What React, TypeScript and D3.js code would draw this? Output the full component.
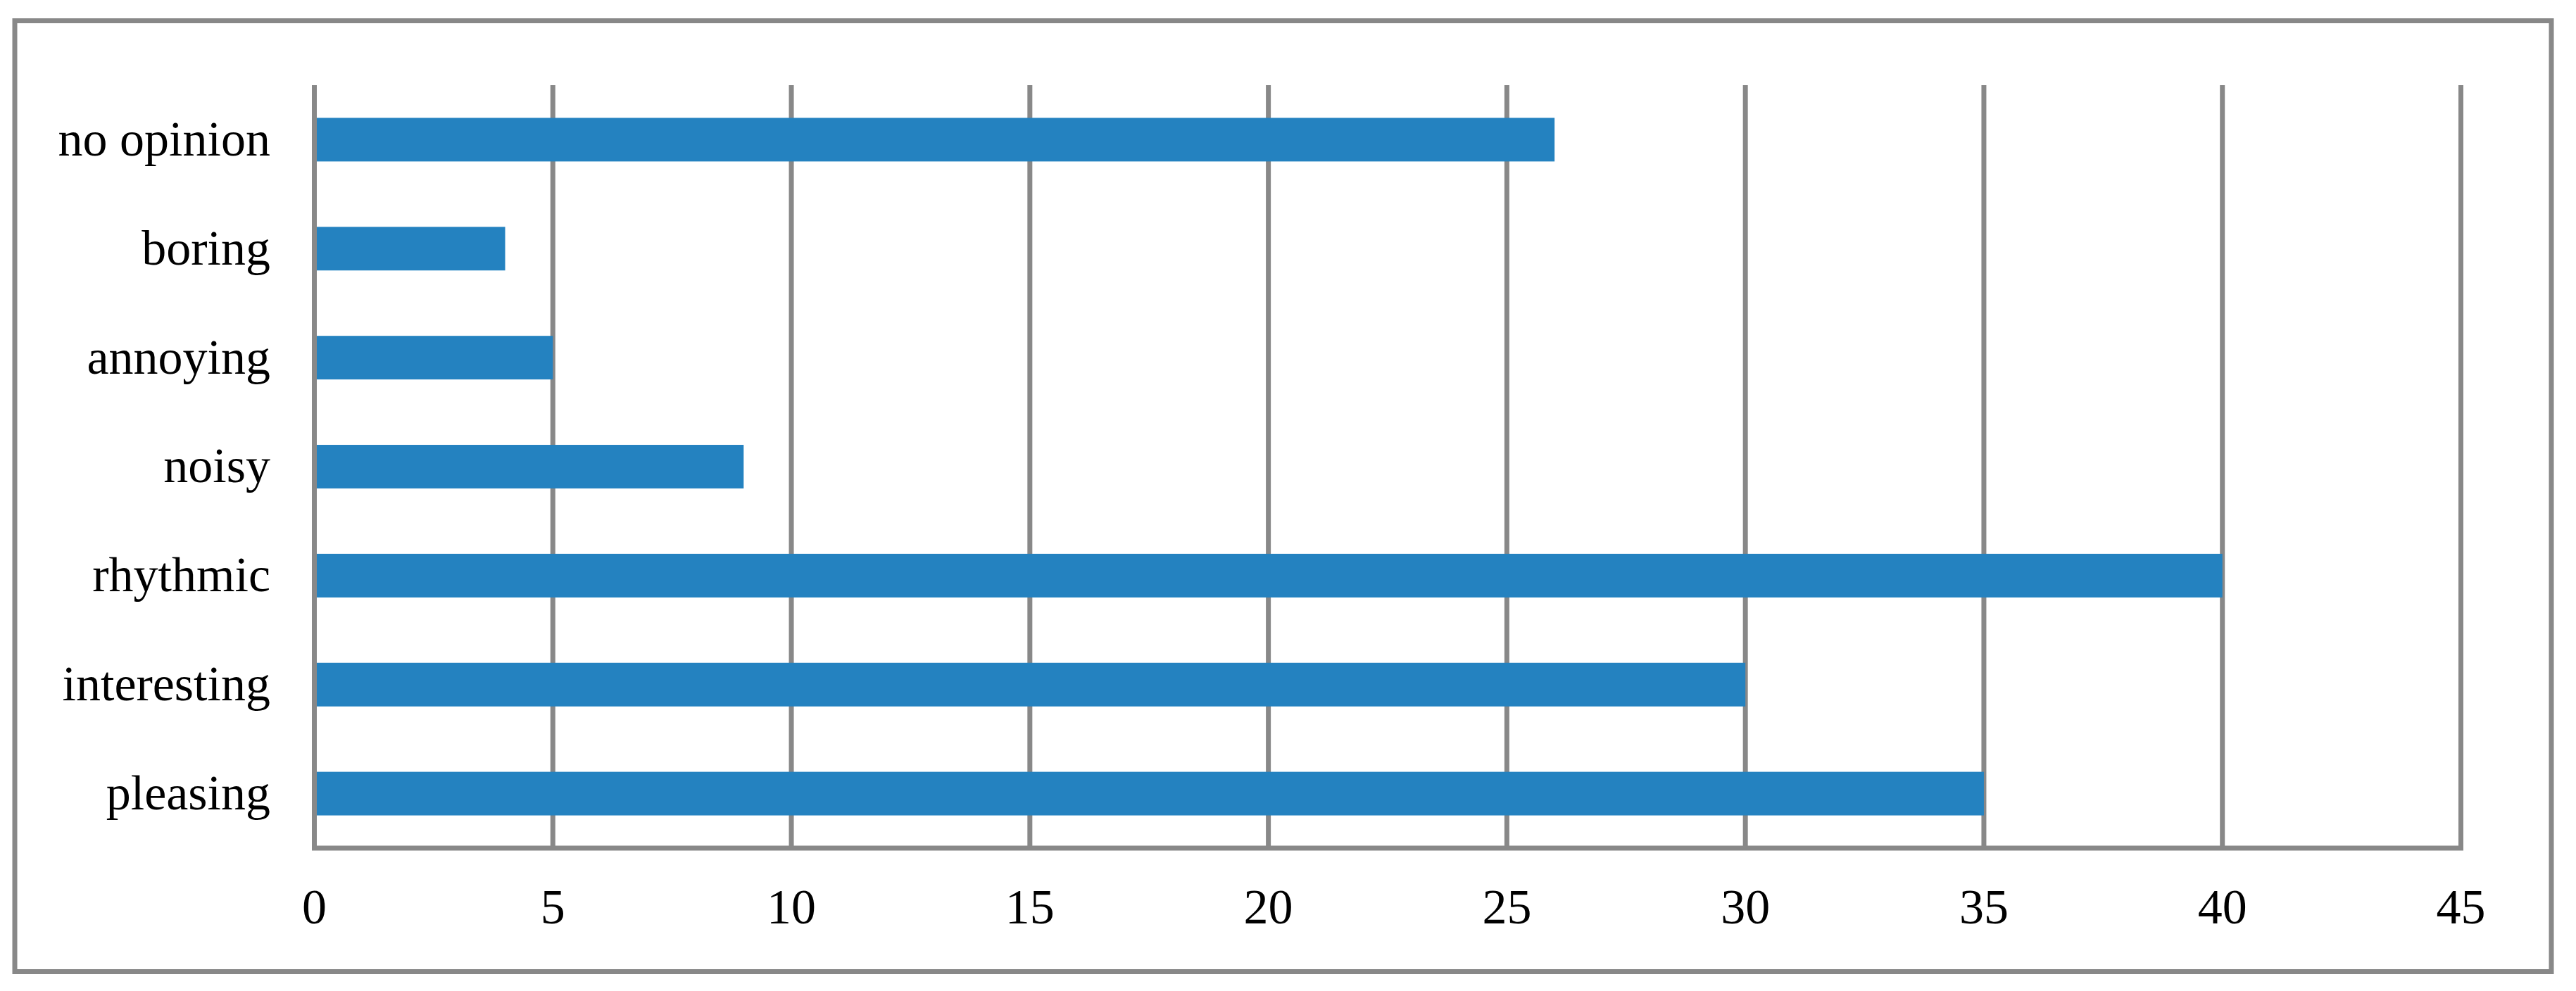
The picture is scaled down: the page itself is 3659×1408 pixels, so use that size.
import React from "react";
import * as d3 from "d3";

const categories = ["no opinion", "boring", "annoying", "noisy", "rhythmic", "interesting", "pleasing"];
const values = [26, 4, 5, 9, 40, 30, 35];
const xTicks = [0, 5, 10, 15, 20, 25, 30, 35, 40, 45];

const W = 3659;
const H = 1408;
const GRID = "#888888";
const BAR = "#2482C0";
const FONT = "'Liberation Serif', 'Times New Roman', serif";

export default function App() {
  const left = 446.5;
  const right = 3495.5;
  const top = 121;
  const bottom = 1205;

  const x = d3.scaleLinear().domain([0, 45]).range([left, right]);
  const y = d3
    .scaleBand<string>()
    .domain(categories)
    .range([top, bottom])
    .paddingInner(0.6)
    .paddingOuter(0.3);

  const band = (bottom - top) / categories.length;

  return (
    <svg
      width={W}
      height={H}
      style={{ position: "absolute", left: 0, top: 0, background: "#fff" }}
      fontFamily={FONT}
    >
      <rect x={0} y={0} width={W} height={H} fill="#fff" />
      <rect
        x={21}
        y={29.5}
        width={3624 - 21}
        height={1380.5 - 29.5}
        fill="none"
        stroke={GRID}
        strokeWidth={7}
      />
      {xTicks.map((t) => (
        <line
          key={"g" + t}
          x1={x(t)}
          x2={x(t)}
          y1={top}
          y2={bottom}
          stroke={GRID}
          strokeWidth={7}
        />
      ))}
      <line x1={left - 3.5} x2={right + 3.5} y1={bottom} y2={bottom} stroke={GRID} strokeWidth={7} />
      {categories.map((c, i) => (
        <rect
          key={"b" + c}
          x={x(0) + 3.5}
          y={y(c)}
          width={x(values[i]) - x(0) - 3.5}
          height={y.bandwidth()}
          fill={BAR}
        />
      ))}
      {categories.map((c, i) => (
        <text
          key={"l" + c}
          x={384}
          y={top + band * (i + 0.5)}
          dy="0.32em"
          textAnchor="end"
          fontSize={70}
          fill="#000"
        >
          {c}
        </text>
      ))}
      {xTicks.map((t) => (
        <text
          key={"t" + t}
          x={x(t)}
          y={1312}
          textAnchor="middle"
          fontSize={70}
          fill="#000"
        >
          {t}
        </text>
      ))}
    </svg>
  );
}
